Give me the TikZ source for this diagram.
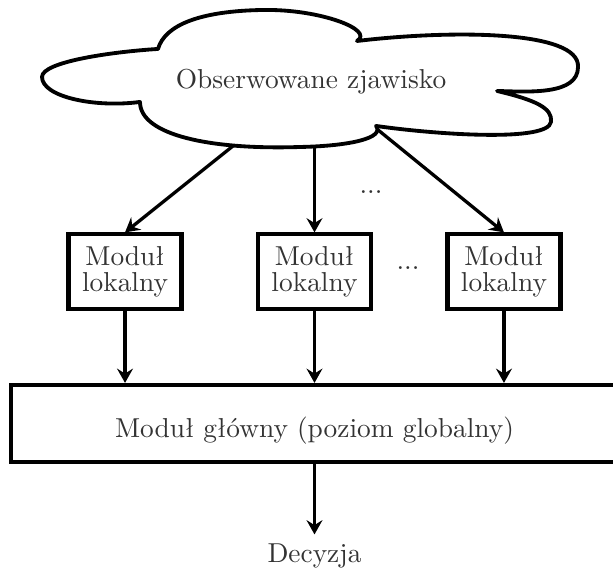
\documentclass[tikz,border=0pt]{standalone}
\usepackage{fontspec}
\usepackage{tikz}
\usetikzlibrary{arrows.meta}
\definecolor{labelgray}{gray}{0.2}
\tikzset{
  cloudline/.style={line width=1.4pt, draw=black, line join=round},
  localbox/.style={draw=black, line width=1.5pt, minimum width=1.450cm, minimum height=0.962cm, inner sep=0pt, align=center, text=labelgray, font=\fontsize{10pt}{9.5pt}\selectfont},
  mainbox/.style={draw=black, line width=1.5pt, minimum width=7.780cm, minimum height=0.988cm, inner sep=0pt, text=labelgray, text height=12.5pt, text depth=2.5pt},
  plainlabel/.style={text=labelgray},
  flowarrow/.style={line width=1.2pt, -{Stealth[length=5.2pt,width=5.8pt,inset=1.8pt]}},
}

\begin{document}
\begin{tikzpicture}
\useasboundingbox (0,0) rectangle (7.865,7.287);
% cloud
\draw[cloudline] (1.796,5.979)
  .. controls (1.219,5.902) and (0.539,6.043) .. (0.539,6.300)
  .. controls (0.539,6.492) and (1.411,6.620) .. (2.027,6.659)
  .. controls (2.117,6.967) and (2.566,7.146) .. (3.374,7.159)
  .. controls (4.106,7.172) and (4.811,6.903) .. (4.580,6.761)
  .. controls (5.774,6.903) and (7.441,6.903) .. (7.416,6.428)
  .. controls (7.416,6.069) and (6.800,6.107) .. (6.377,6.120)
  .. controls (6.864,6.004) and (7.095,5.902) .. (7.069,5.722)
  .. controls (7.031,5.466) and (5.645,5.555) .. (4.824,5.671)
  .. controls (4.940,5.517) and (4.491,5.414) .. (3.849,5.401)
  .. controls (2.694,5.363) and (1.796,5.555) .. (1.796,5.979) -- cycle;
\node[plainlabel] (phenom) at (3.990,6.235) {Obserwowane zjawisko};
\coordinate (cloudleft) at (2.989,5.414);
\coordinate (cloudmid) at (4.035,5.408);
\coordinate (cloudright) at (4.850,5.620);
% local modules
\node[localbox] (local1) at (1.604,3.798) {Moduł\\lokalny};
\node[localbox] (local2) at (4.035,3.798) {Moduł\\lokalny};
\node[localbox] (local3) at (6.466,3.798) {Moduł\\lokalny};
\node[plainlabel, anchor=base] (dotsup) at (4.760,4.798) {...};
\node[plainlabel, anchor=base] (dotsmid) at (5.235,3.830) {...};
% main module
\node[mainbox] (main) at (4.035,1.854) {Moduł główny (poziom globalny)};
\node[plainlabel] (decision) at (4.035,0.150) {Decyzja};
\draw[flowarrow] (cloudleft) -- (local1.north);
\draw[flowarrow] (cloudmid) -- (local2.north);
\draw[flowarrow] (cloudright) -- (local3.north);
\draw[flowarrow] (local1) -- (local1 |- main.north);
\draw[flowarrow] (local2) -- (local2 |- main.north);
\draw[flowarrow] (local3) -- (local3 |- main.north);
\draw[flowarrow] (main) -- (decision);
\end{tikzpicture}
\end{document}
